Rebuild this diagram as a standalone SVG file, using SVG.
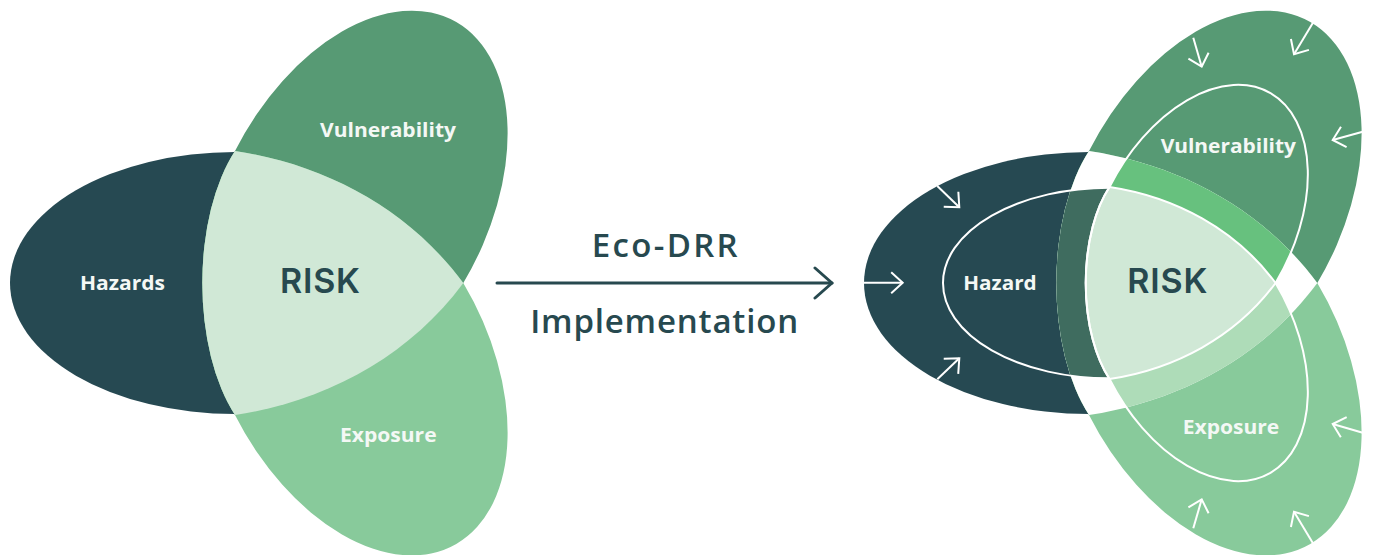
<svg xmlns="http://www.w3.org/2000/svg" width="1373" height="555" viewBox="0 0 1373 555">
<style>
.dk{fill:#264952}
.vg{fill:#579a74}
.eg{fill:#88ca9b}
.lt{fill:#d0e8d6}
.wh{fill:#ffffff}
.bd{fill:#3f6c5f}
.gb{fill:#67c17e}
.lb{fill:#aedcb8}
.lbl{font-family:"Open Sans","Noto Sans","Liberation Sans",sans-serif;font-weight:700;font-size:20px;fill:#f4f8f5;text-anchor:middle}
.risk{font-family:Inter,"Open Sans","Liberation Sans",sans-serif;font-weight:600;font-size:34px;fill:#27494f;text-anchor:middle}
.cap{font-family:"Open Sans","Noto Sans","Liberation Sans",sans-serif;font-weight:600;font-size:33px;fill:#27494f;text-anchor:middle}
.ring{fill:none;stroke:#ffffff;stroke-width:2.75}
.ring2{fill:none;stroke:#ffffff;stroke-width:2}
.pa{fill:none;stroke:#ffffff;stroke-width:2;marker-end:url(#ah)}
</style>
<defs>
<ellipse id="H" cx="235" cy="283" rx="225" ry="131"/>
<ellipse id="IH" cx="1109.5" cy="283" rx="166.5" ry="95.3"/>
<path id="V" d="M235,151 A83,166 0 0 0 235,415 C325,401.5 408.3,357.25 463.3,283 A211,132 -62 1 0 235,151 Z"/>
<path id="L" d="M235,151 C325,164.5 408.3,208.75 463.3,283 C408.3,357.25 325,401.5 235,415 A83,166 0 0 1 235,151 Z"/>
<clipPath id="cX"><use href="#L" transform="translate(854 0)"/></clipPath>
<marker id="ah" viewBox="-15 -13 17 26" refX="0" refY="0" markerWidth="17" markerHeight="26" orient="auto" markerUnits="userSpaceOnUse"><path d="M-11.5,-10.5 L0,0 L-11.5,10.5" fill="none" stroke="#ffffff" stroke-width="2"/></marker>
<marker id="ahm" viewBox="-20 -18 22 36" refX="0" refY="0" markerWidth="22" markerHeight="36" orient="auto" markerUnits="userSpaceOnUse"><path d="M-17,-15 L0,0 L-17,15" fill="none" stroke="#27494f" stroke-width="3" stroke-linecap="round" stroke-linejoin="round"/></marker>
</defs>

<!-- Left diagram -->
<g id="left-hazards"><use href="#H" class="dk"/><text class="lbl" x="122.5" y="290" textLength="85" lengthAdjust="spacingAndGlyphs">Hazards</text></g>
<g id="left-vulnerability"><use href="#V" class="vg"/><text class="lbl" x="388" y="136.7" textLength="136" lengthAdjust="spacingAndGlyphs">Vulnerability</text></g>
<g id="left-exposure"><use href="#V" class="eg" transform="matrix(1 0 0 -1 0 566)"/><text class="lbl" x="388.3" y="441.7" textLength="96.7" lengthAdjust="spacingAndGlyphs">Exposure</text></g>
<g id="left-risk"><use href="#L" class="lt"/><text class="risk" x="320" y="292.7" textLength="80" lengthAdjust="spacing">RISK</text></g>

<!-- Connector -->
<g id="connectors">
<line x1="497" y1="283" x2="832" y2="283" stroke="#27494f" stroke-width="3" stroke-linecap="round" marker-end="url(#ahm)"/>
<text class="cap" x="664.7" y="256.7" textLength="146" lengthAdjust="spacing">Eco-DRR</text>
<text class="cap" x="664.2" y="333.3" textLength="268" lengthAdjust="spacing">Implementation</text>
</g>

<!-- Right diagram -->
<g id="right-hazard"><use href="#H" class="dk" transform="translate(854 0)"/><text class="lbl" x="1000" y="290" textLength="73.4" lengthAdjust="spacingAndGlyphs">Hazard</text></g>
<g id="right-vulnerability"><use href="#V" class="vg" transform="translate(854 0)"/><text class="lbl" x="1228.3" y="152.7" textLength="135.3" lengthAdjust="spacingAndGlyphs">Vulnerability</text></g>
<g id="right-exposure"><use href="#V" class="eg" transform="translate(854 0) matrix(1 0 0 -1 0 566)"/><text class="lbl" x="1231" y="434" textLength="96.6" lengthAdjust="spacingAndGlyphs">Exposure</text></g>
<g id="right-overlaps">
<use href="#L" class="wh" transform="translate(854 0)"/>
<g clip-path="url(#cX)"><use href="#IH" class="bd"/></g>
<use href="#IH" class="ring2"/>
<g clip-path="url(#cX)">
<use href="#V" class="gb" transform="translate(1164.2 283) scale(0.7276) translate(-310.2 -283)"/>
<use href="#V" class="lb" transform="translate(1164.2 283) scale(0.7276) translate(-310.2 -283) matrix(1 0 0 -1 0 566)"/>
</g>
<use href="#L" class="lt" transform="translate(1164.2 283) scale(0.7276) translate(-310.2 -283)"/>
</g>
<g id="right-rings">
<use href="#V" class="ring" transform="translate(1164.2 283) scale(0.7276) translate(-310.2 -283)"/>
<use href="#V" class="ring" transform="translate(1164.2 283) scale(0.7276) translate(-310.2 -283) matrix(1 0 0 -1 0 566)"/>
</g>
<g id="right-risk"><text class="risk" x="1167.3" y="293.3" textLength="80" lengthAdjust="spacing">RISK</text></g>
<g id="pressure-arrows">
<line class="pa" x1="937.3" y1="186" x2="959.3" y2="207.3"/>
<line class="pa" x1="864" y1="282.7" x2="902.7" y2="282.7"/>
<line class="pa" x1="937.3" y1="379.3" x2="959.3" y2="358.3"/>
<line class="pa" x1="1193.3" y1="37.7" x2="1201.7" y2="66.7"/>
<line class="pa" x1="1314" y1="21" x2="1294" y2="54.3"/>
<line class="pa" x1="1362.7" y1="131.7" x2="1332.7" y2="140"/>
<line class="pa" x1="1362.7" y1="432.7" x2="1332.7" y2="424"/>
<line class="pa" x1="1193.3" y1="528.3" x2="1201.7" y2="499.3"/>
<line class="pa" x1="1314" y1="545" x2="1294" y2="511.7"/>
</g>
</svg>
